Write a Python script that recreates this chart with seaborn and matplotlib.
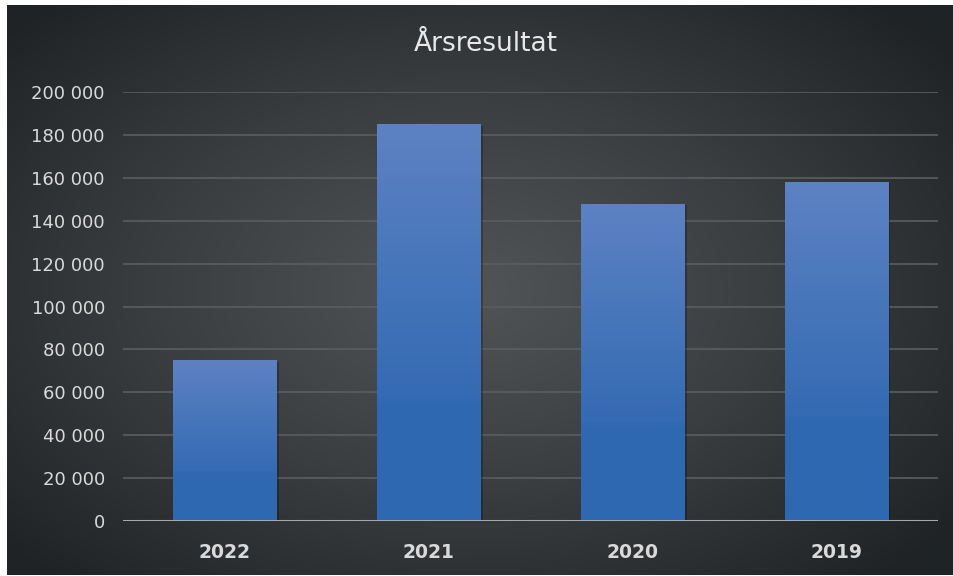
import numpy as np
import matplotlib
matplotlib.use("Agg")
import matplotlib.pyplot as plt
import matplotlib.patheffects as pe
from matplotlib.colors import LinearSegmentedColormap
from matplotlib.ticker import FuncFormatter
import pandas as pd
import seaborn as sns

years = ["2022", "2021", "2020", "2019"]
results = [75000, 185000, 148000, 158000]
title = "Årsresultat"

df = pd.DataFrame({"year": years, "result": results})

sns.set_style("dark")
plt.rcParams["font.family"] = ["DejaVu Sans"]

fig = plt.figure(figsize=(9.54, 5.76), dpi=100)
fig.patch.set_facecolor("white")

# dark panel with a soft radial glow
bg = fig.add_axes([7/954, 1/576, 946/954, 570/576])
bg.set_axis_off()
yy, xx = np.mgrid[-1:1:300j, -1:1:500j]
d = np.clip(np.sqrt(((xx + 0.03) / 1.05) ** 2 + (yy / 1.1) ** 2) / 1.25, 0, 1)
glow = LinearSegmentedColormap.from_list("glow", ["#525558", "#3b3e41", "#1f2326"])
bg.imshow(d, cmap=glow, vmin=0, vmax=1, aspect="auto", extent=[0, 1, 0, 1])
bg.set_xlim(0, 1)
bg.set_ylim(0, 1)

ax = fig.add_axes([123/954, 55/576, 815/954, 429/576])
ax.set_facecolor("none")
sns.barplot(data=df, x="year", y="result", ax=ax, width=0.506,
            color="#2e68b2", saturation=1, linewidth=0, zorder=2)

bar_cmap = LinearSegmentedColormap.from_list(
    "bar", [(0, "#2d68b1"), (0.3, "#2f69b2"), (0.31, "#346bb3"),
            (0.5, "#3f71b7"), (1.0, "#5d82c4")])
grad = np.linspace(1, 0, 200).reshape(-1, 1)
for p in ax.patches:
    x0, y0 = p.get_x(), p.get_y()
    bw, bh = p.get_width(), p.get_height()
    p.set_path_effects([pe.SimplePatchShadow(offset=(2, -1), shadow_rgbFace="black", alpha=0.25),
                        pe.Normal()])
    im = ax.imshow(grad, cmap=bar_cmap, vmin=0, vmax=1, aspect="auto",
                   extent=[x0, x0 + bw, y0, y0 + bh], zorder=2.5)
    im.set_clip_path(p)

ax.set_xlim(-0.5, 3.5)
ax.set_ylim(0, 200000)
ax.set_yticks(range(0, 200001, 20000))
ax.yaxis.set_major_formatter(FuncFormatter(lambda v, _: f"{int(v):,}".replace(",", " ")))
ax.yaxis.grid(True, color="#5b5e61", linewidth=1.2, zorder=0)
ax.xaxis.grid(False)
ax.set_axisbelow(True)
for s in ax.spines.values():
    s.set_visible(False)
ax.axhline(0, color="#a8a8a8", linewidth=2.2, zorder=3)

ax.tick_params(axis="y", length=0, pad=13, labelsize=13, labelcolor="#d9d9d9")
ax.tick_params(axis="x", length=0, pad=16, labelsize=13.5, labelcolor="#d9d9d9")
for t in ax.get_xticklabels():
    t.set_fontweight("bold")
ax.set_xlabel("")
ax.set_ylabel("")

fig.text(486/954, 1 - 44/576, title, ha="center", va="center",
         fontsize=19, color="#e8e8e8")

fig.savefig("out.png", dpi=100, facecolor=fig.get_facecolor())
